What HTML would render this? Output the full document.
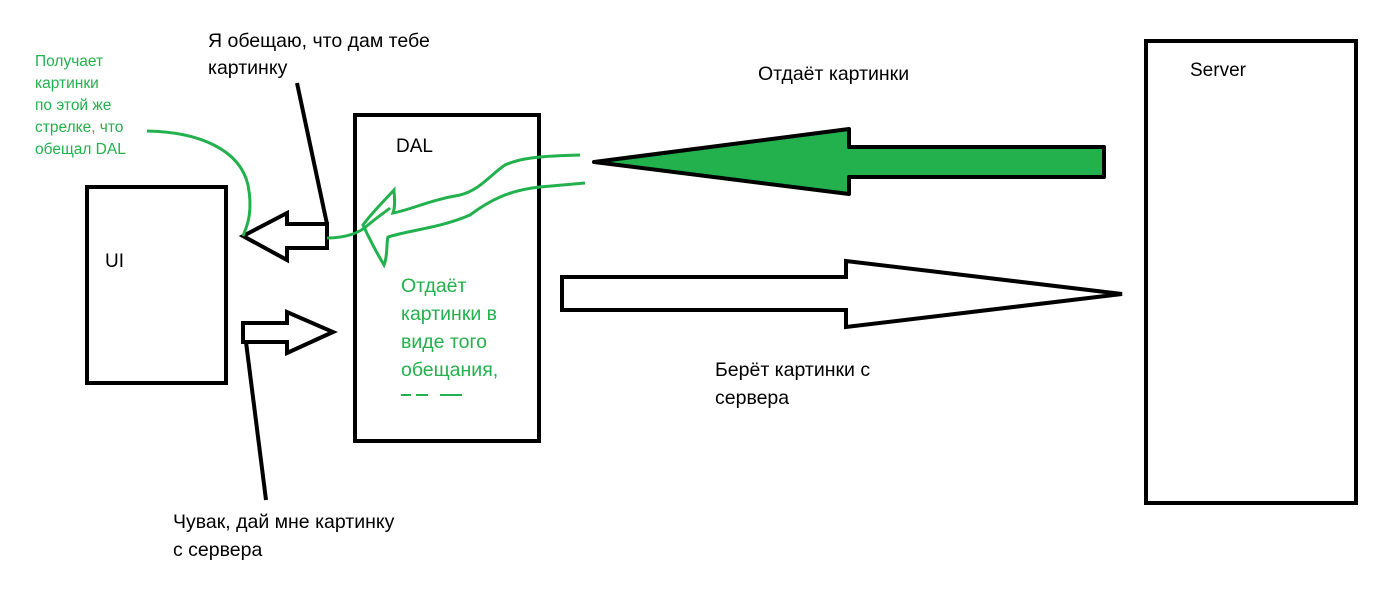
<!DOCTYPE html>
<html><head><meta charset="utf-8"><style>
html,body{margin:0;padding:0;background:#fff;}
svg{display:block}
text{font-family:"Liberation Sans","DejaVu Sans",sans-serif;}
</style></head><body>
<svg width="1399" height="603" viewBox="0 0 1399 603" xmlns="http://www.w3.org/2000/svg">
<rect x="87" y="187" width="139" height="196" fill="none" stroke="#000" stroke-width="4"/>
<rect x="355" y="115" width="184" height="326" fill="none" stroke="#000" stroke-width="4"/>
<rect x="1146" y="41" width="210" height="462" fill="none" stroke="#000" stroke-width="4"/>
<text x="105" y="267" font-size="19">UI</text>
<text x="396" y="152" font-size="19">DAL</text>
<text x="1190" y="76" font-size="19">Server</text>
<polygon points="594,162 849,129 849,147 1104,147 1104,177 849,177 849,194" fill="#22b14c" stroke="#000" stroke-width="4" stroke-linejoin="round"/>
<polygon points="562,277 846,277 846,261 1122,294 846,327 846,310 562,310" fill="#fff" stroke="#000" stroke-width="4"/>
<polygon points="243,236 287,213 287,224 327,224 327,248 287,248 287,260" fill="#fff" stroke="#000" stroke-width="4"/>
<polygon points="243,323 287,323 287,312 333,332 287,353 287,342 243,342" fill="#fff" stroke="#000" stroke-width="4"/>
<line x1="297" y1="83" x2="327" y2="224" stroke="#000" stroke-width="4"/>
<line x1="246" y1="342" x2="266" y2="500" stroke="#000" stroke-width="4"/>
<g fill="none" stroke="#22b14c" stroke-width="3">
<path d="M147,131 C200,132 240,150 248,185 C254,215 245,230 243,236"/>
<path d="M327,238 C345,238 360,233 368,225 C380,215 388,210 390,208"/>
<path d="M580,155 C540,156 520,158 505,165 C490,175 480,190 460,195 C430,200 410,210 393,213 C396,205 394,195 394,190 C380,205 370,215 363,225 C370,240 378,255 384,265 C388,255 386,245 388,237 C410,230 440,228 470,215 C490,200 510,190 540,187 L585,183"/>
</g>
<text x="208" y="47" font-size="19.5">Я обещаю, что дам тебе</text>
<text x="208" y="74" font-size="19.5">картинку</text>
<text x="758" y="80" font-size="19.5">Отдаёт картинки</text>
<text x="715" y="376" font-size="19.5">Берёт картинки с</text>
<text x="715" y="404" font-size="19.5">сервера</text>
<text x="173" y="528" font-size="19.5">Чувак, дай мне картинку</text>
<text x="173" y="556" font-size="19.5">с сервера</text>
<g fill="#22b14c" font-size="15.5">
<text x="35" y="66">Получает</text>
<text x="35" y="88">картинки</text>
<text x="35" y="110">по этой же</text>
<text x="35" y="132">стрелке, что</text>
<text x="35" y="154">обещал DAL</text>
</g>
<g fill="#22b14c" font-size="19.5">
<text x="401" y="292">Отдаёт</text>
<text x="401" y="320">картинки в</text>
<text x="401" y="348">виде того</text>
<text x="401" y="376">обещания,</text>
</g>
<rect x="400" y="388" width="100" height="4" fill="#fff"/>
<path d="M401,395 h10 M416,395 h12 M440,395 h22" stroke="#22b14c" stroke-width="2"/>
</svg>
</body></html>
